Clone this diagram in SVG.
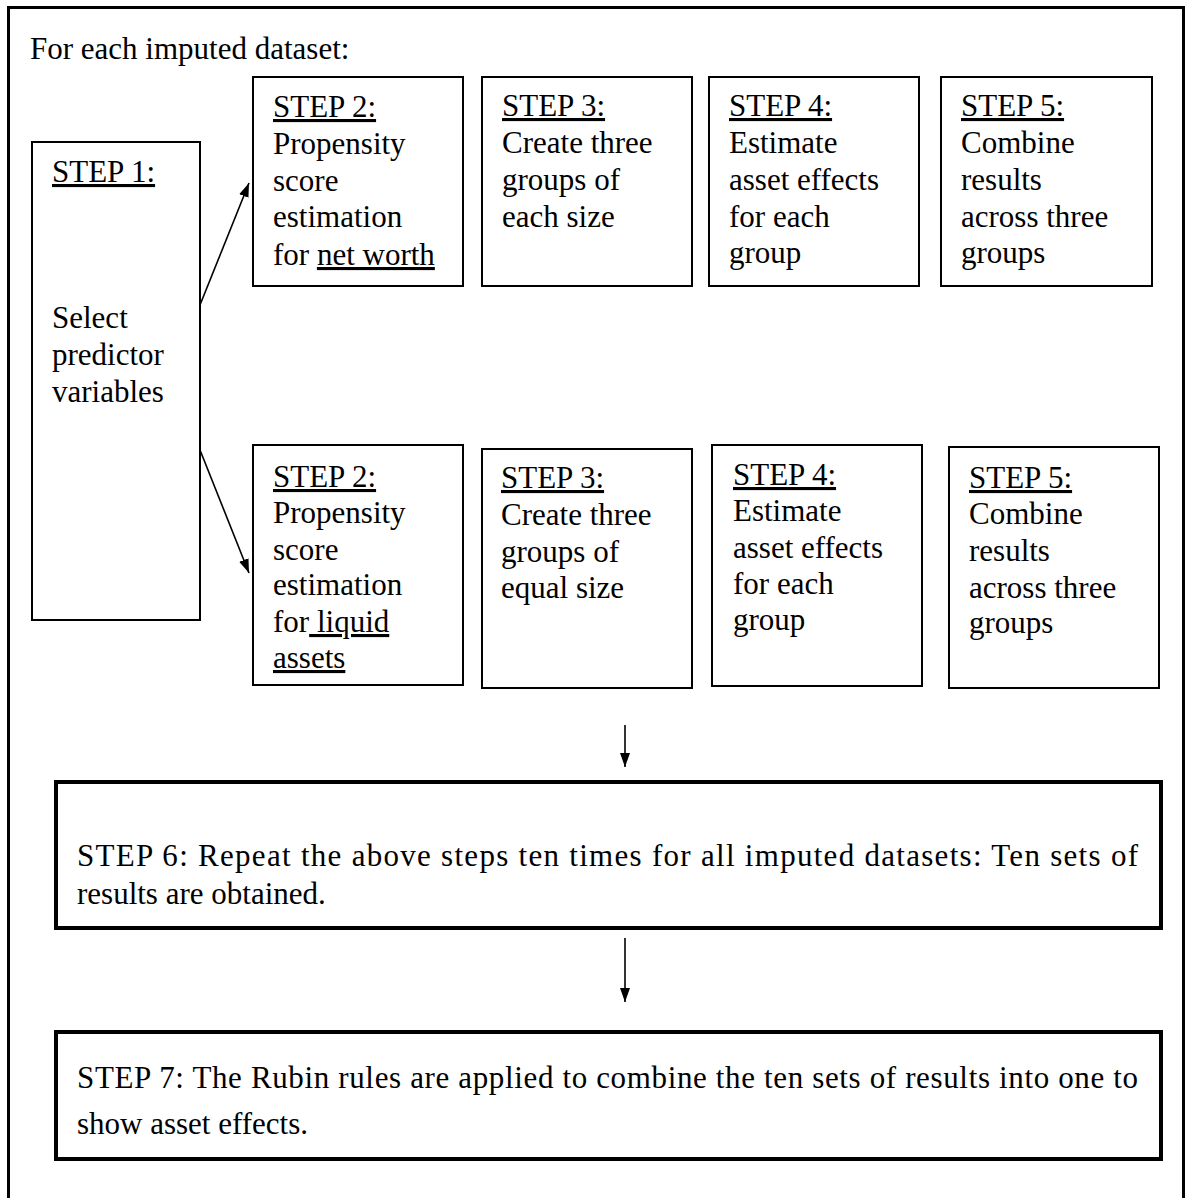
<svg xmlns="http://www.w3.org/2000/svg" width="1189" height="1198" viewBox="0 0 1189 1198">
  <style>
    text { font-family: "Liberation Serif", "Times New Roman", serif; font-size: 31px; fill: #000; }
    .u { text-decoration: underline; }
    .box { fill: #fff; stroke: #000; stroke-width: 2; }
    .thick { fill: #fff; stroke: #000; stroke-width: 4; }
    .frame { fill: none; stroke: #000; stroke-width: 3; }
    .conn { stroke: #000; stroke-width: 1.6; fill: none; }
  </style>
  <defs>
    <marker id="arrow" viewBox="0 0 14 10" refX="14" refY="5" markerWidth="14" markerHeight="10" markerUnits="userSpaceOnUse" orient="auto">
      <path d="M0,0 L14,5 L0,10 Z" fill="#000"/>
    </marker>
  </defs>

  <!-- outer frame -->
  <rect class="frame" x="8.5" y="7.5" width="1175" height="1200"/>
  <text x="30" y="59">For each imputed dataset:</text>

  <!-- step 1 -->
  <g id="step1">
    <rect class="box" x="32" y="142" width="168" height="478" stroke-width="1.5"/>
    <text x="52" y="182" class="u">STEP 1:</text>
    <text x="52" y="328">Select</text>
    <text x="52" y="365">predictor</text>
    <text x="52" y="402">variables</text>
  </g>

  <!-- upper row: net worth -->
  <g id="step2-top">
    <rect class="box" x="253" y="77" width="210" height="209"/>
    <text x="273" y="117" class="u">STEP 2:</text>
    <text x="273" y="154">Propensity</text>
    <text x="273" y="191">score</text>
    <text x="273" y="227">estimation</text>
    <text x="273" y="265">for <tspan class="u">net worth</tspan></text>
  </g>
  <g id="step3-top">
    <rect class="box" x="482" y="77" width="210" height="209"/>
    <text x="502" y="116" class="u">STEP 3:</text>
    <text x="502" y="153">Create three</text>
    <text x="502" y="190">groups of</text>
    <text x="502" y="227">each size</text>
  </g>
  <g id="step4-top">
    <rect class="box" x="709" y="77" width="210" height="209"/>
    <text x="729" y="116" class="u">STEP 4:</text>
    <text x="729" y="153">Estimate</text>
    <text x="729" y="190">asset effects</text>
    <text x="729" y="227">for each</text>
    <text x="729" y="263">group</text>
  </g>
  <g id="step5-top">
    <rect class="box" x="941" y="77" width="211" height="209"/>
    <text x="961" y="116" class="u">STEP 5:</text>
    <text x="961" y="153">Combine</text>
    <text x="961" y="190">results</text>
    <text x="961" y="227">across three</text>
    <text x="961" y="263">groups</text>
  </g>

  <!-- lower row: liquid assets -->
  <g id="step2-bottom">
    <rect class="box" x="253" y="445" width="210" height="240"/>
    <text x="273" y="487" class="u">STEP 2:</text>
    <text x="273" y="523">Propensity</text>
    <text x="273" y="560">score</text>
    <text x="273" y="595">estimation</text>
    <text x="273" y="632">for<tspan class="u"> liquid</tspan></text>
    <text x="273" y="668" class="u">assets</text>
  </g>
  <g id="step3-bottom">
    <rect class="box" x="482" y="449" width="210" height="239"/>
    <text x="501" y="488" class="u">STEP 3:</text>
    <text x="501" y="525">Create three</text>
    <text x="501" y="562">groups of</text>
    <text x="501" y="598">equal size</text>
  </g>
  <g id="step4-bottom">
    <rect class="box" x="712" y="445" width="210" height="241"/>
    <text x="733" y="485" class="u">STEP 4:</text>
    <text x="733" y="521">Estimate</text>
    <text x="733" y="558">asset effects</text>
    <text x="733" y="594">for each</text>
    <text x="733" y="630">group</text>
  </g>
  <g id="step5-bottom">
    <rect class="box" x="949" y="447" width="210" height="241" stroke-width="2.5"/>
    <text x="969" y="488" class="u">STEP 5:</text>
    <text x="969" y="524">Combine</text>
    <text x="969" y="561">results</text>
    <text x="969" y="598">across three</text>
    <text x="969" y="633">groups</text>
  </g>

  <!-- step 6 -->
  <g id="step6">
    <rect class="thick" x="56" y="782" width="1105" height="146"/>
    <text x="77" y="866" textLength="1061" lengthAdjust="spacing">STEP 6: Repeat the above steps ten times for all imputed datasets: Ten sets of</text>
    <text x="77" y="904">results are obtained.</text>
  </g>

  <!-- step 7 -->
  <g id="step7">
    <rect class="thick" x="56" y="1032" width="1105" height="127"/>
    <text x="77" y="1088" textLength="1061" lengthAdjust="spacing">STEP 7: The Rubin rules are applied to combine the ten sets of results into one to</text>
    <text x="77" y="1134">show asset effects.</text>
  </g>

  <!-- connectors -->
  <g id="connectors">
    <line class="conn" x1="200" y1="305" x2="249" y2="183" marker-end="url(#arrow)"/>
    <line class="conn" x1="200" y1="450" x2="249" y2="573" marker-end="url(#arrow)"/>
    <line class="conn" x1="625" y1="725" x2="625" y2="767" marker-end="url(#arrow)"/>
    <line class="conn" x1="625" y1="938" x2="625" y2="1002" marker-end="url(#arrow)"/>
  </g>
</svg>
